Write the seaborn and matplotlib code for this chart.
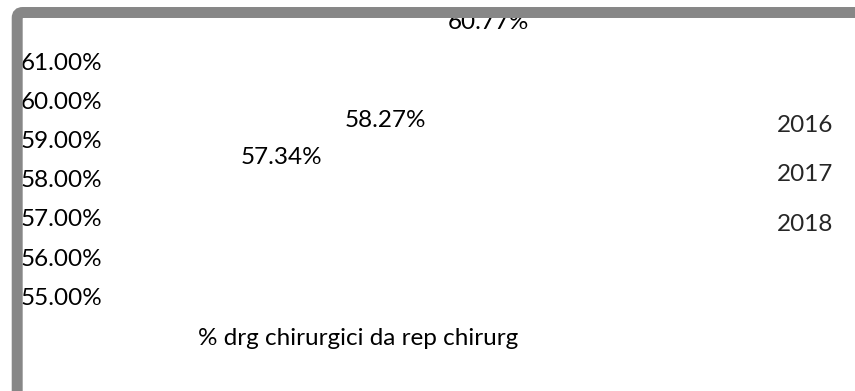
import matplotlib
matplotlib.use("Agg")
import matplotlib.pyplot as plt
import matplotlib.transforms as mtransforms
from matplotlib.patches import FancyBboxPatch
from matplotlib.ticker import FuncFormatter, FixedLocator
import seaborn as sns
import pandas as pd

# ---- data ----
category = ["% drg chirurgici da rep chirurg"]
years = ["2016", "2017", "2018"]
values = [57.34, 58.27, 60.77]
yticks = [55, 56, 57, 58, 59, 60, 61]

sns.set_theme(style="white")
plt.rcParams["font.family"] = ["Lato", "DejaVu Sans"]
FS = 17.5

df = pd.DataFrame({"cat": category * len(years), "year": years, "val": values})

W, H = 855, 391
fig = plt.figure(figsize=(W / 100, H / 100), dpi=100)
fig.patch.set_facecolor("white")
ax = fig.add_axes([22 / W, 1 - 325 / H, (W - 22) / W, 325 / H])

sns.barplot(data=df, x="cat", y="val", hue="year", palette=["white"] * 3,
            saturation=1, linewidth=0, ax=ax, width=0.8)

ax.set_xlim((22 - 385) / 388, (855 - 385) / 388)
ax.set_ylim(61 - (325 - 61) / 39.2, 61 + 61 / 39.2)
ax.yaxis.set_major_locator(FixedLocator(yticks))
ax.yaxis.set_major_formatter(FuncFormatter(lambda v, p: f"{v:.2f}%"))
for s in ax.spines.values():
    s.set_visible(False)
ax.tick_params(axis="both", length=0, labelsize=FS, labelcolor="black")
ax.tick_params(axis="y", pad=1.2)
for lab in ax.get_yticklabels():
    lab.set_horizontalalignment("left")
ax.tick_params(axis="x", pad=2.5)
ax.set_xlabel("")
ax.set_ylabel("")
shift = mtransforms.ScaledTranslation(-0.27, 0, fig.dpi_scale_trans)
for lab in ax.get_xticklabels():
    lab.set_transform(lab.get_transform() + shift)

# data labels
for cont in ax.containers:
    for bar in cont:
        v = bar.get_height()
        ax.annotate(f"{v:.2f}%", (bar.get_x() + bar.get_width() / 2, v),
                    xytext=(0, 34.0), textcoords="offset points",
                    ha="center", va="center", fontsize=FS, color="black",
                    annotation_clip=False)

leg = ax.legend(loc="upper left", bbox_to_anchor=(777 / W, 1 - 115 / H),
                bbox_transform=fig.transFigure, frameon=False,
                handlelength=0, handletextpad=0, borderpad=0,
                borderaxespad=0, labelspacing=1.17, fontsize=FS)
for h in leg.legend_handles:
    h.set_visible(False)

# grey rounded frame (only top and left visible)
frame = FancyBboxPatch((0.172, -2.0), 20, 3.785 + 2.0,
                       boxstyle="round,pad=0,rounding_size=0.055",
                       transform=fig.dpi_scale_trans, facecolor="none",
                       edgecolor="#878787", linewidth=7.9, zorder=10)
fig.patches.append(frame)

fig.savefig("out.png", dpi=100, facecolor="white")
